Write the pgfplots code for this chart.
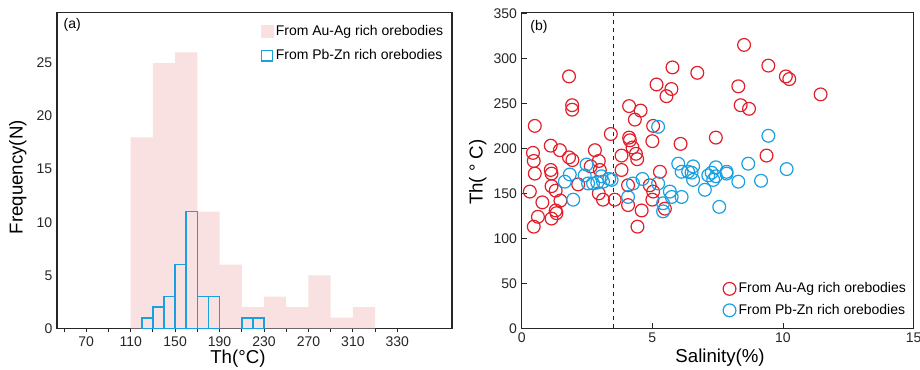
\documentclass[border=0pt]{standalone}
\usepackage{pgfplots}
\pgfplotsset{compat=1.18}
\usepackage{fontspec}
\setmainfont{Liberation Sans}
\definecolor{pinkfill}{RGB}{248,225,224}
\definecolor{cblue}{RGB}{25,160,225}
\definecolor{cred}{RGB}{226,30,42}
\begin{document}
\begin{tikzpicture}
\path[use as bounding box] (0,0) rectangle (690pt,276.75pt);
% ---------------- (a) histogram ----------------
\begin{axis}[
  at={(42.75pt,30.5pt)}, anchor=south west,
  scale only axis, width=296.25pt, height=237.2pt,
  xmin=43.7, xmax=399.2, ymin=0, ymax=29.8,
  axis line style={black!85, line width=0.8pt},
  /pgf/number format/assume math mode=true,
  ticklabel style={font=\fontsize{10.5}{12}\selectfont, text=black!85},
  xtick={50,70,...,350},
  xticklabels={,70,,110,,150,,190,,230,,270,,310,,330},
  xtick pos=bottom, xtick align=outside,
  major tick length=3pt,
  xtick style={black!85, line width=0.7pt},
  ytick={0,5,...,25}, ytick style={draw=none},
  xlabel={Th(°C)}, ylabel={Frequency(N)},
  label style={font=\fontsize{14}{16}\selectfont},
  xlabel style={at={(axis description cs:0.458,-0.095)}, anchor=center},
  ylabel style={at={(axis description cs:-0.099,0.478)}, anchor=center},
  legend style={draw=none, fill=none, at={(0.995,0.975)}, anchor=north east,
    font=\fontsize{10.5}{12}\selectfont, row sep=5pt},
  legend cell align=left,
]
% Au-Ag bins (centres, 20 wide)
\addplot[ybar, bar width=20, bar shift=0pt, fill=pinkfill, draw=none, forget plot] coordinates {
 (120,18) (140,25) (160,26) (180,11) (200,6) (220,2) (240,3) (260,2) (280,5) (300,1) (320,2)};
% Pb-Zn bins (centres, 10 wide)
\addplot[ybar, bar width=10, bar shift=0pt, draw=cblue, fill=none, line width=1.2pt, forget plot] coordinates {
 (125,1) (135,2) (145,3) (155,6) (165,11) (175,3) (185,3) (215,1) (225,1)};
\addlegendimage{legend image code/.code={\fill[pinkfill] (1pt,-4.5pt) rectangle (10pt,4.5pt);}}
\addlegendentry{From Au-Ag rich orebodies}
\addlegendimage{legend image code/.code={\draw[cblue, line width=1pt] (1.5pt,-4pt) rectangle (9.5pt,4pt);}}
\addlegendentry{From Pb-Zn rich orebodies}
\node[anchor=north west, font=\fontsize{10.5}{12}\selectfont] at (rel axis cs:0.005,0.995) {(a)};
\end{axis}
% ---------------- (b) scatter ----------------
\begin{axis}[
  at={(391.3pt,30.5pt)}, anchor=south west,
  scale only axis, width=293.9pt, height=237.2pt,
  xmin=0, xmax=15, ymin=0, ymax=351.5,
  axis line style={black!85, line width=0.8pt},
  /pgf/number format/assume math mode=true,
  ticklabel style={font=\fontsize{10.5}{12}\selectfont, text=black!85},
  xtick={0,5,10,15}, ytick={0,50,...,350},
  tick pos=left, tick align=inside, major tick length=4pt,
  tick style={black!85, line width=0.7pt},
  xlabel={Salinity(\%)}, ylabel={Th( ° C)},
  label style={font=\fontsize{14}{16}\selectfont},
  xlabel style={at={(axis description cs:0.506,-0.092)}, anchor=center},
  ylabel style={at={(axis description cs:-0.112,0.494)}, anchor=center},
  legend style={draw=none, fill=none, at={(0.998,0.02)}, anchor=south east,
    font=\fontsize{10.5}{12}\selectfont, row sep=3pt},
  legend cell align=left,
]
\addplot[forget plot, black!85, dashed, line width=0.8pt] coordinates {(3.5,0) (3.5,351.5)};
\addplot[only marks, mark=o, mark size=4.8pt, mark options={draw=cred, line width=0.9pt}] coordinates {
(0.43,195) (0.46,186) (0.5,172) (0.5,225) (0.31,152) (0.62,124) (0.46,113) (0.79,140)
(1.11,203) (1.11,176) (1.14,172) (1.14,158) (1.3,153) (1.14,122) (1.3,131) (1.33,128)
(1.48,142) (1.46,198) (1.81,190) (1.94,187) (1.81,280) (1.93,248) (1.93,243) (2.16,160)
(2.8,198) (2.64,180) (2.95,186) (2.99,176) (2.95,150) (3.11,143) (3.56,143) (3.41,216)
(3.82,192) (3.82,176) (4.11,247) (4.55,242) (4.33,232) (4.11,212) (4.14,209) (4.24,201)
(4.37,194) (4.42,188) (5.03,225) (5.0,208) (5.16,271) (5.77,290) (5.73,266) (5.54,258)
(6.72,284) (6.08,205) (4.07,159) (4.9,159) (5.03,152) (5.0,143) (5.48,133) (4.07,137)
(4.59,131) (4.43,113) (5.29,174) (7.43,212) (9.37,192) (8.51,315) (9.44,292) (10.11,280)
(10.24,277) (11.44,260) (8.29,269) (8.38,248) (8.7,244)};
\addlegendentry{From Au-Ag rich orebodies}
\addplot[only marks, mark=o, mark size=4.8pt, mark options={draw=cblue, line width=0.9pt}] coordinates {
(1.97,143) (1.65,163) (1.84,171) (2.48,182) (2.41,170) (2.54,161) (2.73,161) (2.89,162)
(3.05,169) (3.35,166) (3.11,163) (3.44,165) (4.26,161) (4.62,166) (5.22,161) (4.07,146)
(5.22,224) (5.67,152) (5.74,146) (6.12,146) (5.41,130) (5.41,139) (5.99,183) (6.12,174)
(6.37,174) (6.56,180) (6.5,173) (6.56,165) (7.01,154) (7.56,135) (7.14,170) (7.27,173)
(7.33,165) (7.43,179) (7.43,169) (7.84,174) (7.84,172) (8.29,163) (8.67,183) (9.16,164)
(9.44,214) (10.14,177)};
\addlegendentry{From Pb-Zn rich orebodies}
\node[anchor=north west, font=\fontsize{10.5}{12}\selectfont] at (rel axis cs:0.01,0.99) {(b)};
\end{axis}
\end{tikzpicture}
\end{document}
